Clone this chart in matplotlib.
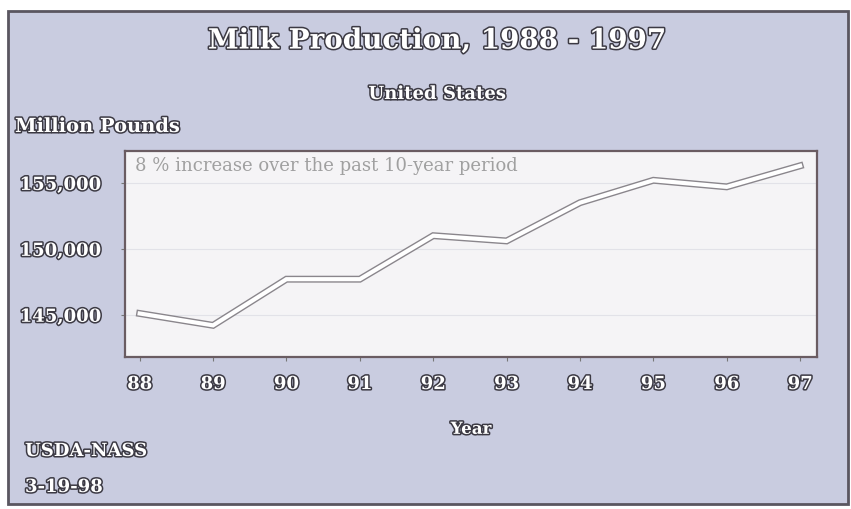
import matplotlib.pyplot as plt
import matplotlib.patheffects as pe
from matplotlib.patches import Rectangle

# Milk production, million pounds
years = [88, 89, 90, 91, 92, 93, 94, 95, 96, 97]
production = [145100, 144200, 147700, 147700, 151000, 150600, 153500, 155200, 154700, 156300]
y_ticks = [145000, 150000, 155000]
y_tick_labels = ['145,000', '150,000', '155,000']
x_tick_labels = ['88', '89', '90', '91', '92', '93', '94', '95', '96', '97']

bg = '#c9cce0'
outline = [pe.Stroke(linewidth=2.2, foreground='#3c3a44'), pe.Normal()]

fig = plt.figure(figsize=(8.51, 5.10), dpi=100)
fig.patch.set_facecolor('white')

# lavender panel with a dark frame, like the scanned page
panel = Rectangle((8 / 851, 5 / 510), 840 / 851, 493 / 510, transform=fig.transFigure,
                  facecolor=bg, edgecolor='#5a5660', linewidth=2.0, zorder=-10)
fig.patches.append(panel)

ax = fig.add_axes([125 / 851, 152 / 510, 692 / 851, 206 / 510])
ax.set_facecolor('#f5f4f6')

line, = ax.plot(years, production, color='white', linewidth=3, solid_joinstyle='miter', zorder=3)
line.set_path_effects([pe.Stroke(linewidth=5.0, foreground='#8a868c'), pe.Normal()])

ax.set_xlim(87.8, 97.23)
ax.set_ylim(141800, 157420)
ax.set_yticks(y_ticks)
ax.set_xticks(years)
ax.set_yticklabels(y_tick_labels)
ax.set_xticklabels(x_tick_labels)
ax.grid(axis='y', color='#e2e2e8', linewidth=0.8)
ax.tick_params(axis='both', length=3, color='#777', pad=10)
for lab in ax.get_yticklabels() + ax.get_xticklabels():
    lab.set_fontfamily('DejaVu Serif')
    lab.set_fontweight('bold')
    lab.set_fontsize(13)
    lab.set_color('white')
    lab.set_path_effects(outline)
ax.tick_params(axis='y', pad=14)
for s in ax.spines.values():
    s.set_color('#6a5c62')
    s.set_linewidth(1.6)

ax.text(0.015, 0.93, '8 % increase over the past 10-year period', transform=ax.transAxes,
        fontsize=13, color='#a0a0a0', family='DejaVu Serif', va='center')

ax.set_xlabel('Year', fontsize=12, family='DejaVu Serif', fontweight='bold', color='white',
              labelpad=20, path_effects=outline)

def fig_text(x, y, s, size, ha='left'):
    fig.text(x / 851, 1 - y / 510, s, fontsize=size, family='DejaVu Serif', fontweight='bold',
             color='white', ha=ha, va='center', path_effects=outline)

fig_text(437, 42, 'Milk Production, 1988 - 1997', 20, ha='center')
fig_text(437, 95, 'United States', 13, ha='center')
fig_text(15, 128, 'Million Pounds', 14)
fig_text(25, 452, 'USDA-NASS', 13)
fig_text(25, 488, '3-19-98', 13)

fig.savefig('out.png', dpi=100, facecolor=fig.get_facecolor())
